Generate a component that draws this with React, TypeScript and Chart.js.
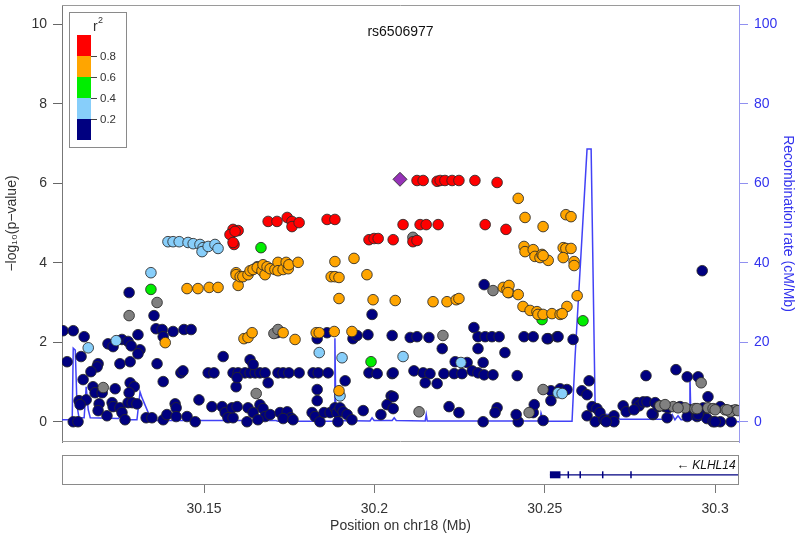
import React, { useEffect, useRef } from "react";
import { Chart, registerables } from "chart.js";

Chart.register(...registerables);

// ---------- DATA ----------
const leadSnpName = "rs6506977";
const leadSnp: [number, number] = [30.2075, 6.10];

const redSnps: [number, number][] = [
  [30.1585, 4.84], [30.1600, 4.81], [30.1588, 4.46], [30.1576, 4.71], [30.1591, 4.79], [30.1585, 4.51],
  [30.1688, 5.04], [30.1714, 5.04], [30.1744, 5.14], [30.1758, 5.04], [30.1758, 4.91], [30.1779, 5.01],
  [30.1861, 5.09], [30.1884, 5.09], [30.1984, 4.58], [30.1999, 4.61], [30.2011, 4.61], [30.2055, 4.58],
  [30.2084, 4.96], [30.2125, 6.07], [30.2143, 6.07], [30.2184, 6.05], [30.2193, 6.07], [30.2207, 6.07],
  [30.2228, 6.07], [30.2248, 6.07], [30.2295, 6.07], [30.2360, 6.02], [30.2134, 4.96], [30.2152, 4.96],
  [30.2187, 4.96], [30.2325, 4.96], [30.2386, 4.84], [30.2113, 4.53], [30.2125, 4.56],
];

const orangeSnps: [number, number][] = [
  [30.1450, 3.35], [30.1482, 3.35], [30.1515, 3.38], [30.1541, 3.38], [30.1386, 1.99], [30.1594, 3.75],
  [30.1600, 3.43], [30.1594, 3.70], [30.1606, 3.65], [30.1614, 3.65], [30.1629, 3.70], [30.1635, 3.80],
  [30.1644, 3.83], [30.1656, 3.88], [30.1670, 3.80], [30.1673, 3.95], [30.1679, 3.70], [30.1685, 3.90],
  [30.1694, 3.85], [30.1708, 3.83], [30.1717, 4.01], [30.1717, 3.80], [30.1732, 3.83], [30.1741, 4.01],
  [30.1747, 3.85], [30.1749, 3.95], [30.1776, 4.01], [30.1884, 4.03], [30.1940, 4.11], [30.1873, 3.65],
  [30.1884, 3.65], [30.1896, 3.63], [30.1978, 3.70], [30.1896, 3.10], [30.1996, 3.07], [30.2061, 3.05],
  [30.1617, 2.09], [30.1629, 2.12], [30.1641, 2.24], [30.1732, 2.24], [30.1767, 2.07], [30.1829, 2.24],
  [30.1838, 2.24], [30.1882, 2.27], [30.1934, 2.27], [30.1896, 0.78], [30.2422, 5.62], [30.2442, 5.14],
  [30.2495, 4.91], [30.2439, 4.41], [30.2442, 4.28], [30.2466, 4.33], [30.2471, 4.16], [30.2486, 4.13],
  [30.2492, 4.21], [30.2510, 4.06], [30.2172, 3.02], [30.2213, 3.02], [30.2240, 3.07], [30.2248, 3.10],
  [30.2378, 3.38], [30.2389, 3.33], [30.2395, 3.43], [30.2392, 3.25], [30.2422, 3.20], [30.2436, 2.90],
  [30.2457, 2.80], [30.2477, 2.77], [30.2480, 2.70], [30.2495, 2.70], [30.2521, 2.72], [30.2545, 2.70],
  [30.2562, 5.21], [30.2577, 5.16], [30.2554, 4.38], [30.2562, 4.36], [30.2577, 4.36], [30.2495, 4.18],
  [30.2554, 4.13], [30.2586, 4.03], [30.2586, 3.93], [30.2595, 3.17], [30.2565, 2.90], [30.2551, 2.72],
];

const greenSnps: [number, number][] = [
  [30.1344, 3.33], [30.1667, 4.38], [30.1990, 1.51], [30.2492, 2.57], [30.2612, 2.54],
];

const lightBlueSnps: [number, number][] = [
  [30.1160, 1.86], [30.1242, 2.04], [30.1344, 3.75], [30.1394, 4.53], [30.1409, 4.53], [30.1427, 4.53],
  [30.1453, 4.51], [30.1468, 4.48], [30.1488, 4.46], [30.1497, 4.38], [30.1494, 4.28], [30.1512, 4.41],
  [30.1532, 4.46], [30.1541, 4.36], [30.1838, 1.74], [30.1905, 1.61], [30.1899, 0.65], [30.2084, 1.64],
  [30.2254, 1.49], [30.2539, 0.73], [30.2551, 0.71],
];

const graySnps: [number, number][] = [
  [30.1204, 0.86], [30.1280, 2.67], [30.1362, 3.00], [30.1656, 3.90], [30.1705, 2.22], [30.1717, 2.32],
  [30.1653, 0.71], [30.2113, 4.64], [30.2201, 2.17], [30.2348, 3.30], [30.2395, 3.25], [30.2131, 0.25],
  [30.2454, 0.23], [30.2495, 0.81], [30.2959, 0.98], [30.2912, 0.35], [30.2941, 0.33], [30.2979, 0.35],
  [30.2994, 0.33], [30.3029, 0.30], [30.3059, 0.30], [30.3044, 0.25], [30.2838, 0.40], [30.2877, 0.38],
  [30.2853, 0.43], [30.2891, 0.35], [30.2947, 0.33], [30.3000, 0.30], [30.3035, 0.30], [30.3067, 0.28],
];

const navySnps: [number, number][] = [
  [30.1086, 2.29], [30.1116, 2.29], [30.1148, 2.14], [30.1098, 1.51], [30.1139, 1.64], [30.1189, 1.46],
  [30.1186, 1.38], [30.1168, 1.26], [30.1145, 1.06], [30.1174, 0.88], [30.1180, 0.73], [30.1201, 0.73],
  [30.1133, 0.53], [30.1154, 0.55], [30.1136, 0.43], [30.1116, 0.00], [30.1130, 0.00], [30.1192, 0.45],
  [30.1189, 0.28], [30.1215, 0.15], [30.1230, 0.48], [30.1233, 0.38], [30.1253, 0.35], [30.1259, 0.23],
  [30.1268, 0.05], [30.1277, 0.48], [30.1289, 0.48], [30.1303, 0.45], [30.1239, 0.83], [30.1283, 0.98],
  [30.1295, 0.88], [30.1280, 0.73], [30.1253, 1.46], [30.1283, 1.51], [30.1312, 1.81], [30.1306, 1.71],
  [30.1218, 1.96], [30.1233, 1.89], [30.1259, 2.07], [30.1277, 2.02], [30.1286, 1.91], [30.1306, 2.19],
  [30.1280, 3.25], [30.1353, 2.67], [30.1359, 2.34], [30.1377, 2.32], [30.1380, 2.14], [30.1409, 2.27],
  [30.1441, 2.32], [30.1462, 2.32], [30.1362, 1.46], [30.1380, 1.01], [30.1432, 1.23], [30.1438, 1.28],
  [30.1330, 0.10], [30.1347, 0.10], [30.1380, 0.05], [30.1391, 0.18], [30.1415, 0.45], [30.1418, 0.35],
  [30.1418, 0.13], [30.1450, 0.13], [30.1474, 0.00], [30.1485, 0.55], [30.1512, 1.23], [30.1529, 1.23],
  [30.1523, 0.38], [30.1556, 1.64], [30.1553, 0.38], [30.1562, 0.23], [30.1570, 0.10], [30.1585, 0.10],
  [30.1585, 1.23], [30.1594, 0.88], [30.1582, 0.35], [30.1597, 0.38],
  [30.1714, 2.24], [30.1832, 2.09], [30.1861, 2.24], [30.1937, 2.09], [30.1949, 2.17], [30.1981, 2.19],
  [30.2052, 2.17], [30.1993, 2.70], [30.1600, 1.23], [30.1620, 1.23], [30.1635, 1.23], [30.1650, 1.23],
  [30.1664, 1.23], [30.1679, 1.23], [30.1717, 1.23], [30.1732, 1.23], [30.1749, 1.23], [30.1779, 1.23],
  [30.1820, 1.23], [30.1835, 1.23], [30.1864, 1.23], [30.1914, 1.03], [30.1984, 1.23], [30.2008, 1.21],
  [30.2052, 1.21], [30.1597, 1.11], [30.1635, 1.56], [30.1644, 1.44], [30.1688, 0.98], [30.1832, 0.81],
  [30.1832, 0.53], [30.2049, 0.65], [30.2037, 0.43], [30.1629, 0.35], [30.1664, 0.43], [30.1673, 0.33],
  [30.1679, 0.13], [30.1694, 0.18], [30.1644, 0.23], [30.1626, 0.00], [30.1658, 0.05], [30.1723, 0.23],
  [30.1744, 0.25], [30.1755, 0.10], [30.1732, 0.08], [30.1761, 0.05], [30.1817, 0.23], [30.1826, 0.13],
  [30.1840, 0.00], [30.1852, 0.23], [30.1870, 0.23], [30.1884, 0.35], [30.1890, 0.23], [30.1899, 0.35],
  [30.1908, 0.25], [30.1920, 0.18], [30.1934, 0.05], [30.1893, 0.00], [30.1967, 0.28], [30.2019, 0.18],
  [30.2055, 0.33],
  [30.2105, 2.12], [30.2125, 2.14], [30.2160, 2.12], [30.2304, 2.14], [30.2325, 2.14], [30.2345, 2.14],
  [30.2366, 2.14], [30.2439, 2.14], [30.2466, 2.14], [30.2510, 2.09], [30.2536, 2.14], [30.2292, 2.37],
  [30.2322, 3.45], [30.2199, 1.84], [30.2304, 1.84], [30.2383, 1.74], [30.2237, 1.51], [30.2272, 1.49],
  [30.2319, 1.49], [30.2055, 1.23], [30.2116, 1.28], [30.2143, 1.23], [30.2163, 1.21], [30.2204, 1.21],
  [30.2234, 1.21], [30.2257, 1.21], [30.2287, 1.28], [30.2304, 1.23], [30.2322, 1.18], [30.2348, 1.18],
  [30.2419, 1.16], [30.2149, 0.98], [30.2184, 0.96], [30.2055, 0.63], [30.2219, 0.38], [30.2248, 0.23],
  [30.2360, 0.35], [30.2354, 0.23], [30.2319, 0.00], [30.2422, 0.00], [30.2416, 0.18], [30.2466, 0.23],
  [30.2469, 0.43], [30.2518, 0.78], [30.2518, 0.53], [30.2495, 0.03],
  [30.2507, 2.09], [30.2539, 2.14], [30.2583, 2.07], [30.2962, 3.80], [30.2545, 0.83], [30.2565, 0.81],
  [30.2609, 0.78], [30.2624, 0.68], [30.2630, 1.03], [30.2639, 0.38], [30.2653, 0.33], [30.2662, 0.23],
  [30.2624, 0.15], [30.2648, 0.00], [30.2674, 0.05], [30.2686, 0.03], [30.2703, 0.15], [30.2703, 0.00],
  [30.2680, 0.00], [30.2730, 0.40], [30.2739, 0.25], [30.2771, 0.48], [30.2777, 0.40], [30.2789, 0.50],
  [30.2800, 0.50], [30.2824, 0.48], [30.2818, 0.18], [30.2859, 0.10], [30.2762, 0.30], [30.2815, 0.20],
  [30.2853, 0.38], [30.2862, 0.35], [30.2797, 1.16], [30.2885, 1.31], [30.2918, 1.13], [30.2950, 1.13],
  [30.2979, 0.63], [30.2897, 0.38], [30.2926, 0.30], [30.2965, 0.30], [30.3015, 0.38], [30.2918, 0.13],
  [30.2947, 0.13], [30.2976, 0.08], [30.2994, 0.00], [30.3015, 0.00], [30.3047, 0.00], [30.2833, 0.38],
  [30.2965, 0.35], [30.3050, 0.28], [30.2950, 0.18], [30.3000, 0.00],
];

const recombPos: number[] = [
  30.1083, 30.1113, 30.1116, 30.1122, 30.1127, 30.1133, 30.1148, 30.1154, 30.1160, 30.1166,
  30.1248, 30.1256, 30.1265, 30.1303, 30.1312, 30.1318, 30.1341, 30.1347, 30.1711, 30.1717,
  30.1882, 30.1884, 30.1887, 30.1987, 30.1993, 30.1999, 30.2052, 30.2058, 30.2064, 30.2149,
  30.2152, 30.2155, 30.2486, 30.2489, 30.2495, 30.2501, 30.2580, 30.2589, 30.2624, 30.2636,
  30.2648, 30.2707, 30.2721, 30.2862, 30.2874, 30.2882, 30.2891, 30.2900, 30.2924, 30.2926,
  30.2929, 30.2985, 30.3070,
];
const recombRate: number[] = [
  0.5, 0.5, 18.5, 18, 4, 1, 1, 8.8, 3, 1,
  0.8, 1.5, 0.5, 0.5, 7.5, 6, 1.3, 0.3, 0.3, 0.1,
  0.1, 21, 0.3, 0.2, 1.0, 0.3, 0.3, 1.0, 0.3, 0.2,
  1.8, 0.2, 0.2, 2.2, 0.5, 0.1, 0.1, 16.5, 68.6, 68.6,
  2.3, 1.5, 0.6, 0.6, 1.8, 0.5, 1.5, 0.5, 0.5, 11.5,
  0.6, 0.3, 0.0,
];

const xRange = [30.1083, 30.3070];
const xTicks = [30.15, 30.2, 30.25, 30.3];
const yTicks = [0, 2, 4, 6, 8, 10];
const recombTicks = [0, 20, 40, 60, 80, 100];
const legendBreaks = ["0.8", "0.6", "0.4", "0.2"];

const geneName = "KLHL14";
const geneSpan = [30.2515, 30.33];
const geneBlock = [30.2515, 30.2546];
const geneExons = [30.2569, 30.2604, 30.2670, 30.2753];
const geneLabelEnd = 30.3060;

// ---------- STYLE ----------
const FONT = "'Liberation Sans', Arial, Helvetica, sans-serif";
const C_RED = "#FF0000";
const C_ORANGE = "#FFA500";
const C_GREEN = "#00EE00";
const C_LBLUE = "#87CEFA";
const C_NAVY = "#000080";
const C_GRAY = "#808080";
const C_PURPLE = "#9632B8";
const C_RECOMB = "rgba(45,45,245,0.9)";
const C_AXISBLUE = "#3333EE";

const toPts = (arr: [number, number][]) => arr.map(([x, y]) => ({ x, y }));

function snpSet(label: string, arr: [number, number][], color: string, order: number) {
  return {
    label,
    data: toPts(arr),
    backgroundColor: color,
    borderColor: "rgba(40,40,40,0.85)",
    borderWidth: 1,
    pointRadius: 5.3,
    pointHoverRadius: 5.3,
    yAxisID: "y",
    order,
  };
}

export default function App() {
  const topRef = useRef<HTMLCanvasElement>(null);
  const botRef = useRef<HTMLCanvasElement>(null);

  useEffect(() => {
    Chart.defaults.font.family = FONT;

    const decor = {
      id: "decor",
      beforeDatasetsDraw(chart: any) {
        const { ctx, chartArea: a } = chart;
        ctx.save();
        ctx.strokeStyle = "#9a9a9a";
        ctx.lineWidth = 1;
        ctx.beginPath();
        ctx.moveTo(a.left, Math.round(a.top) + 0.5);
        ctx.lineTo(a.right, Math.round(a.top) + 0.5);
        ctx.moveTo(a.left, Math.round(a.bottom) - 0.5);
        ctx.lineTo(a.right, Math.round(a.bottom) - 0.5);
        ctx.stroke();
        ctx.restore();
      },
      afterDatasetsDraw(chart: any) {
        const { ctx, chartArea: a } = chart;
        ctx.save();
        // title
        ctx.fillStyle = "#111";
        ctx.font = `14px ${FONT}`;
        ctx.textAlign = "center";
        ctx.textBaseline = "middle";
        ctx.fillText(leadSnpName, (a.left + a.right) / 2, a.top + 27);
        // legend
        const L = Math.round(a.left) + 7, T = Math.round(a.top) + 7, W = 57, H = 135;
        ctx.fillStyle = "#fff";
        ctx.fillRect(L, T, W, H);
        ctx.strokeStyle = "#8a8a8a";
        ctx.lineWidth = 1;
        ctx.strokeRect(L + 0.5, T + 0.5, W, H);
        const bx = L + 8, bw = 14, bt = T + 23, sh = 21;
        const cols = [C_RED, C_ORANGE, C_GREEN, C_LBLUE, C_NAVY];
        cols.forEach((c, i) => {
          ctx.fillStyle = c;
          ctx.fillRect(bx, bt + i * sh, bw, sh);
        });
        ctx.strokeStyle = "#444";
        ctx.fillStyle = "#333";
        ctx.font = `11.5px ${FONT}`;
        ctx.textAlign = "left";
        legendBreaks.forEach((lab, j) => {
          const y = bt + (j + 1) * sh;
          ctx.beginPath();
          ctx.moveTo(bx + bw, y + 0.5);
          ctx.lineTo(bx + bw + 6, y + 0.5);
          ctx.stroke();
          ctx.fillText(lab, bx + bw + 9, y + 1);
        });
        ctx.font = `14px ${FONT}`;
        ctx.textAlign = "left";
        ctx.fillText("r", L + 24, T + 15);
        ctx.font = `9px ${FONT}`;
        ctx.fillText("2", L + 29, T + 9);
        ctx.restore();
      },
    };

    const c1 = new Chart(topRef.current!, {
      type: "scatter",
      data: {
        datasets: [
          {
            label: "lead",
            data: toPts([leadSnp]),
            backgroundColor: C_PURPLE,
            borderColor: "rgba(40,40,40,0.85)",
            borderWidth: 1,
            pointStyle: "rectRot",
            pointRadius: 7,
            yAxisID: "y",
            order: 0,
          } as any,
          snpSet("r2 0.8-1", redSnps, C_RED, 1),
          snpSet("r2 0.6-0.8", orangeSnps, C_ORANGE, 2),
          snpSet("r2 0.4-0.6", greenSnps, C_GREEN, 3),
          snpSet("r2 0.2-0.4", lightBlueSnps, C_LBLUE, 4),
          snpSet("r2 NA", graySnps, C_GRAY, 5),
          snpSet("r2 0-0.2", navySnps, C_NAVY, 6),
          {
            label: "recomb",
            data: recombPos.map((x, i) => ({ x, y: recombRate[i] })),
            showLine: true,
            borderColor: C_RECOMB,
            borderWidth: 1.5,
            pointRadius: 0,
            tension: 0,
            yAxisID: "y1",
            order: 7,
          } as any,
        ],
      },
      options: {
        responsive: false,
        devicePixelRatio: 1,
        animation: false,
        events: [],
        layout: { autoPadding: false, padding: { top: 5, bottom: 3, left: 0, right: 0 } },
        plugins: { legend: { display: false }, tooltip: { enabled: false } },
        scales: {
          x: { type: "linear", min: xRange[0], max: xRange[1], display: false },
          y: {
            position: "left",
            min: -0.51,
            max: 10.486,
            afterBuildTicks: (s: any) => { s.ticks = yTicks.map((v) => ({ value: v })); },
            afterFit: (s: any) => { s.width = 62; s.paddingTop = 0; s.paddingBottom = 0; },
            grid: { display: true, drawOnChartArea: false, drawTicks: true, tickLength: 9, color: "#666" },
            border: { display: true, color: "#777" },
            ticks: { color: "#333", font: { size: 14 }, padding: 6 },
            title: { display: true, text: "\u2212log\u2081\u2080(p\u2212value)", color: "#333", font: { size: 14 } },
          },
          y1: {
            position: "right",
            min: -5.1,
            max: 104.86,
            afterBuildTicks: (s: any) => { s.ticks = recombTicks.map((v) => ({ value: v })); },
            afterFit: (s: any) => { s.width = 61; s.paddingTop = 0; s.paddingBottom = 0; },
            grid: { display: true, drawOnChartArea: false, drawTicks: true, tickLength: 9, color: "#9090F0" },
            border: { display: true, color: "#9a9af0" },
            ticks: { color: C_AXISBLUE, font: { size: 14 }, padding: 6 },
            title: { display: true, text: "Recombination rate (cM/Mb)", color: C_AXISBLUE, font: { size: 14 } },
          },
        },
      } as any,
      plugins: [decor],
    });

    const geneDecor = {
      id: "geneDecor",
      afterDatasetsDraw(chart: any) {
        const { ctx, chartArea: a, scales } = chart;
        ctx.save();
        ctx.strokeStyle = "#8a8a8a";
        ctx.lineWidth = 1;
        ctx.strokeRect(a.left + 0.5, a.top + 0.5, a.right - a.left - 1, a.bottom - a.top - 1);
        const xr = scales.x.getPixelForValue(geneLabelEnd);
        const yl = scales.y.getPixelForValue(0.66);
        ctx.fillStyle = "#111";
        ctx.textBaseline = "middle";
        ctx.textAlign = "right";
        ctx.font = `italic 12px ${FONT}`;
        ctx.fillText(geneName, xr, yl);
        const w = ctx.measureText(geneName).width;
        ctx.font = `13px ${FONT}`;
        ctx.fillText("\u2190", xr - w - 3, yl);
        ctx.restore();
      },
    };

    const c2 = new Chart(botRef.current!, {
      type: "scatter",
      data: {
        datasets: [
          {
            label: "gene",
            data: geneSpan.map((x) => ({ x, y: 0.34 })),
            showLine: true,
            borderColor: C_NAVY,
            borderWidth: 1.3,
            pointRadius: 0,
          } as any,
          {
            label: "block",
            data: geneBlock.map((x) => ({ x, y: 0.34 })),
            showLine: true,
            borderColor: C_NAVY,
            borderWidth: 7,
            borderCapStyle: "butt",
            pointRadius: 0,
          } as any,
          {
            label: "exons",
            data: geneExons.map((x) => ({ x, y: 0.34 })),
            pointStyle: "line",
            rotation: 90,
            pointRadius: 3.5,
            borderColor: C_NAVY,
            borderWidth: 1.5,
          } as any,
        ],
      },
      options: {
        responsive: false,
        devicePixelRatio: 1,
        animation: false,
        events: [],
        layout: { autoPadding: false, padding: { top: 10, bottom: 0, left: 62, right: 61 } },
        plugins: { legend: { display: false }, tooltip: { enabled: false } },
        scales: {
          x: {
            type: "linear",
            min: xRange[0],
            max: xRange[1],
            afterBuildTicks: (s: any) => { s.ticks = xTicks.map((v) => ({ value: v })); },
            afterFit: (s: any) => { s.height = 56; s.paddingLeft = 0; s.paddingRight = 0; },
            grid: { display: true, drawOnChartArea: false, drawTicks: true, tickLength: 8, color: "#777" },
            border: { display: false },
            ticks: { color: "#333", font: { size: 14 }, padding: 8, callback: (v: any) => String(v) },
            title: { display: true, text: "Position on chr18 (Mb)", color: "#333", font: { size: 14 }, padding: { top: 2, bottom: 6 } },
          },
          y: { min: 0, max: 1, display: false },
        },
      } as any,
      plugins: [geneDecor],
    });

    return () => {
      c1.destroy();
      c2.destroy();
    };
  }, []);

  return (
    <div style={{ position: "absolute", left: 0, top: 0, width: 800, height: 541, background: "#fff", overflow: "hidden" }}>
      <canvas ref={topRef} width={800} height={445} style={{ position: "absolute", left: 0, top: 0 }} />
      <canvas ref={botRef} width={800} height={96} style={{ position: "absolute", left: 0, top: 445 }} />
    </div>
  );
}
